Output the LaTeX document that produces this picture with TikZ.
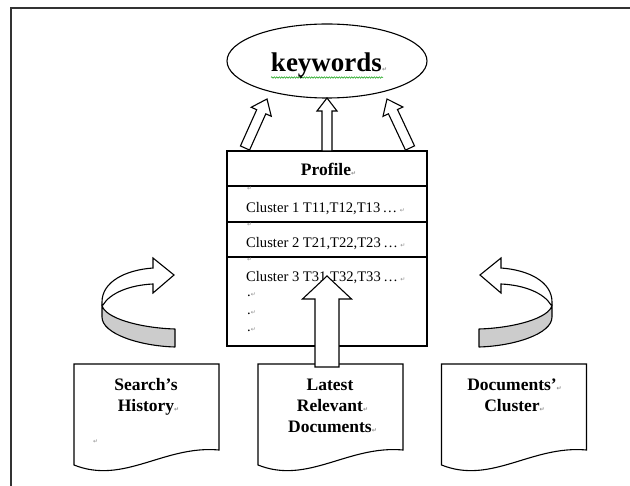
\documentclass[tikz,border=0pt]{standalone}
\usepackage{fontspec}
\setmainfont{Liberation Serif}
\newfontfamily\symf{DejaVu Sans}
\usetikzlibrary{calc,decorations.pathmorphing,shapes.geometric}
\newcommand{\parmark}{{\symf\fontsize{6}{6}\selectfont\color{black!45}↵}}
\newcommand{\blockarrow}[5]{%
  \coordinate (ba-h) at ($(#2)!#5!(#1)$);
  \draw[barrow] ($(#1)!#3!90:(#2)$) -- ($(ba-h)!#3!-90:(#1)$) -- ($(ba-h)!#4!-90:(#1)$) -- (#2)
    -- ($(ba-h)!#4!90:(#1)$) -- ($(ba-h)!#3!90:(#1)$) -- ($(#1)!#3!-90:(#2)$) -- cycle;}
\newcommand{\docshape}[1]{%
  \begin{scope}[shift={(#1.south west)}]
    \draw[docline] (0,-86) -- (145,-86) -- (145,0) .. controls (90,-5) and (50,35) .. (0,15) -- cycle;
  \end{scope}}
\tikzset{
  barrow/.style={draw, fill=white, line width=1.1pt, line join=miter},
  docline/.style={draw, fill=white, line width=1.1pt, line join=miter},
  docbox/.style={minimum width=145pt, minimum height=86pt, inner sep=0pt, outer sep=0pt},
  rowbox/.style={draw, minimum width=200pt, inner sep=0pt, outer sep=0pt, line width=1.1pt},
  doctext/.style={font=\fontsize{17.5}{21}\selectfont\bfseries, align=center, inner sep=0pt, anchor=base},
  celltext/.style={font=\fontsize{14.6}{16}\selectfont, anchor=base west, inner sep=0pt},
  markonly/.style={anchor=base west, inner sep=0pt},
  band/.style={draw, fill=black!20, line width=1.1pt, line join=round},
  ribbon/.style={draw, fill=white, line width=1.1pt, line join=miter},
  curvarr/.pic={
    \path[ribbon] (0,5) -- (0,2) .. controls (0,-18) and (23,-30) .. (51,-32) -- (51,-42) -- (72,-25)
      -- (51,-7) -- (51,-16) .. controls (28,-15) and (8,-7) .. (1,5) -- cycle;
    \path[band] (0,5) .. controls (2,18) and (38,28) .. (73,29) -- (73,47)
      .. controls (38,46) and (0,34) .. (0,17) -- cycle;
  }
}
\begin{document}
\begin{tikzpicture}[x=1pt,y=-1pt]
\useasboundingbox (0,0) rectangle (630,486);
\draw[line width=1.6pt, black!80] (631,8) -- (11,8) -- (11,487);

% keywords ellipse
\node[draw, ellipse, line width=1.1pt, minimum width=200pt, minimum height=74pt, inner sep=0pt, outer sep=0pt] (kw) at (327,61) {};
\node[font=\fontsize{27}{30}\selectfont\bfseries, anchor=base, inner sep=0pt] (kwt) at (326.5,72) {keywords\rlap{\parmark}};
\draw[decorate, decoration={snake, amplitude=0.7pt, segment length=2.5pt}, green!60!black, line width=0.5pt] (271,77.5) -- (383,77.5);
\fill (301,77) circle (1.4pt);

% profile table
\node[rowbox, minimum height=35pt] (ph) at (327,168.5) {};
\node[rowbox, minimum height=36pt] (c1) at (327,204) {};
\node[rowbox, minimum height=35pt] (c2) at (327,239.5) {};
\node[rowbox, minimum height=89pt] (c3) at (327,301.5) {};
\node[font=\fontsize{17.5}{20}\selectfont\bfseries, anchor=base, inner sep=0pt] (pt) at (326,176) {Profile\rlap{\parmark}};
\node[markonly] (m1) at (247,191) {\parmark};
\node[markonly] (m2) at (247,227) {\parmark};
\node[markonly] (m3) at (247,262) {\parmark};
\node[celltext] (c1t) at (246,213) {Cluster 1 T11,T12,T13\,…\,\parmark};
\node[celltext] (c2t) at (246,247.5) {Cluster 2 T21,T22,T23\,…\,\parmark};
\node[celltext] (c3t) at (246,282) {Cluster 3 T31,T32,T33\,…\,\parmark};
\node[celltext] (dot1) at (247,297) {.\parmark};
\node[celltext] (dot2) at (247,315) {.\parmark};
\node[celltext] (dot3) at (247,332) {.\parmark};

% arrows to keywords
\coordinate (tL) at (267,99);
\coordinate (aL) at (245,148);
\coordinate (tR) at (387,99);
\coordinate (aR) at (410,148);
\blockarrow{aL}{tL}{5pt}{11pt}{14pt}
\blockarrow{ph.north}{kw.south}{5pt}{10pt}{13pt}
\blockarrow{aR}{tR}{5pt}{11pt}{14pt}

% documents
\node[docbox] (dsh) at (146.5,407) {};
\node[docbox] (dlr) at (330.5,407) {};
\node[docbox] (ddc) at (514,407) {};
\docshape{dsh}
\docshape{dlr}
\docshape{ddc}
\node[doctext] (dsht) at (146,412) {Search’s\\History\rlap{\parmark}};
\node[markonly] (m4) at (93,444) {\parmark};
\node[doctext] (dlrt) at (330,433) {Latest\\Relevant\rlap{\parmark}\\Documents\rlap{\parmark}};
\node[doctext] (ddct) at (512,412) {Documents’\rlap{\parmark}\\Cluster\rlap{\parmark}};

% big arrow from latest documents into profile
\coordinate (bigTail) at (327,367);
\coordinate (bigTip) at (327,276);
\blockarrow{bigTail}{bigTip}{12pt}{24.5pt}{23pt}

% curved arrows
\pic at (102,300) {curvarr};
\pic[xscale=-1] at (552,300) {curvarr};
\end{tikzpicture}
\end{document}
